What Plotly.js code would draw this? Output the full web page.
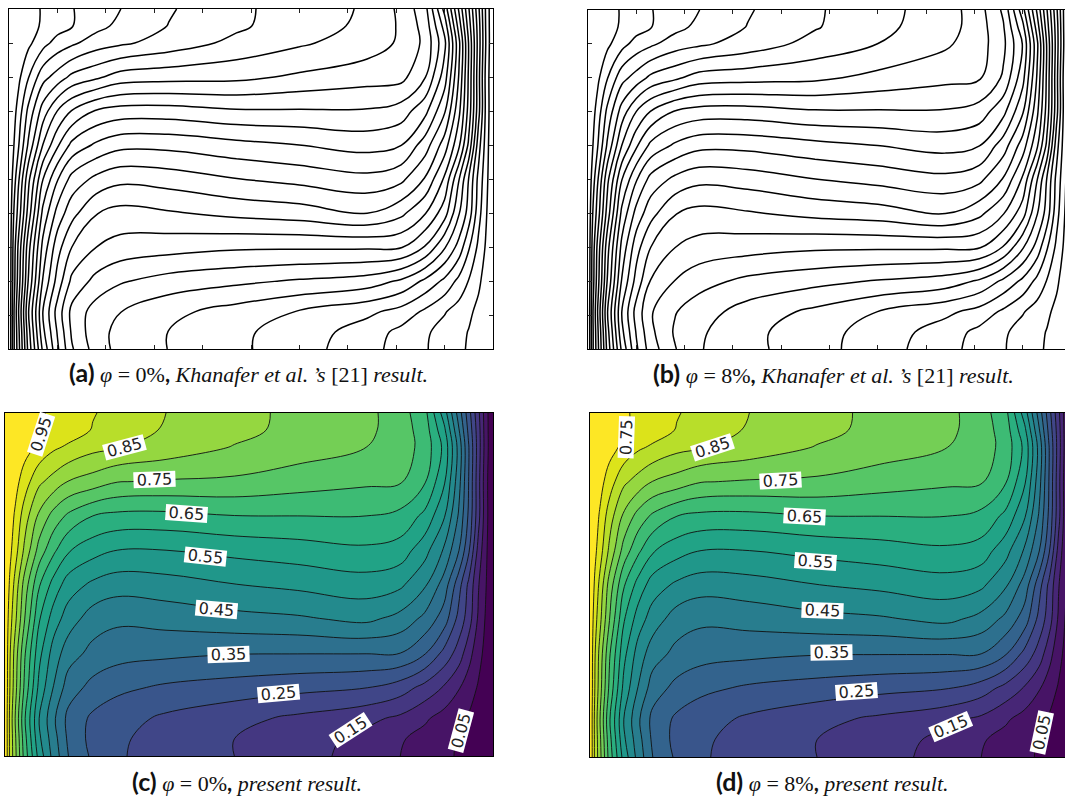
<!DOCTYPE html>
<html><head><meta charset="utf-8">
<script src="https://cdn.plot.ly/plotly-3.0.1.min.js"></script>
<style>html,body{margin:0;padding:0;background:#fff;overflow:hidden;width:1065px;height:796px}</style>
</head><body><div id="chart"></div>
<script>
const xGrid=[0,.01,.02,.04,.07,.1,.13,.18,.23,.33,.47,.6,.74,.81,.86,.9,.93,.95,.97,.985,1];
const yGrid=[0,.05,.11,.2,.3,.4,.5,.6,.7,.8,.9,.95,1];
const zField=[
[1,.89,.82,.68,.53,.43,.35,.29,.255,.23,.20,.17,.13,.10,.08,.06,.045,.035,.025,.012,0],
[1,.89,.815,.67,.51,.42,.34,.283,.258,.23,.20,.175,.135,.105,.083,.062,.047,.037,.027,.014,0],
[1,.888,.806,.657,.50,.408,.335,.29,.27,.241,.215,.19,.163,.14,.108,.08,.06,.045,.03,.016,0],
[1,.90,.825,.69,.535,.447,.375,.334,.312,.292,.278,.265,.252,.225,.184,.145,.104,.075,.045,.025,0],
[1,.905,.835,.708,.565,.477,.423,.385,.37,.362,.353,.352,.352,.35,.305,.235,.177,.12,.068,.035,0],
[1,.922,.867,.753,.605,.525,.475,.425,.41,.419,.434,.443,.462,.433,.387,.325,.233,.176,.092,.045,0],
[1,.942,.888,.78,.655,.58,.525,.49,.472,.479,.499,.512,.527,.51,.458,.378,.27,.19,.104,.054,0],
[1,.9625,.925,.84,.73,.66,.605,.57,.55,.55,.565,.577,.591,.578,.519,.443,.352,.26,.133,.062,0],
[1,.975,.945,.875,.79,.73,.69,.65,.637,.636,.649,.65,.65,.636,.588,.505,.393,.292,.168,.07,0],
[1,.99,.97,.925,.86,.83,.798,.777,.752,.745,.741,.724,.709,.705,.655,.557,.418,.30,.168,.068,0],
[1,.998,.99,.97,.937,.908,.892,.865,.853,.83,.797,.775,.75,.725,.683,.587,.431,.304,.175,.077,0],
[1,1,.995,.98,.955,.94,.925,.897,.875,.845,.815,.785,.762,.725,.677,.562,.404,.288,.172,.075,0],
[1,1,.998,.98,.957,.94,.925,.903,.885,.85,.817,.787,.765,.722,.667,.525,.377,.272,.162,.073,0]
];
const zFieldB=[
[1,.89,.82,.68,.53,.43,.365,.31,.272,.242,.207,.172,.13,.10,.08,.06,.045,.035,.025,.012,0],
[1,.89,.815,.67,.51,.42,.355,.303,.275,.242,.207,.177,.135,.105,.083,.062,.047,.037,.027,.014,0],
[1,.888,.806,.657,.50,.408,.35,.31,.287,.253,.222,.192,.163,.14,.108,.08,.06,.045,.03,.016,0],
[1,.90,.825,.69,.535,.447,.382,.345,.322,.298,.281,.266,.252,.225,.184,.145,.104,.075,.045,.025,0],
[1,.905,.835,.708,.565,.477,.423,.385,.37,.362,.353,.352,.352,.35,.305,.235,.177,.12,.068,.035,0],
[1,.922,.867,.753,.605,.525,.475,.425,.41,.419,.434,.443,.462,.433,.387,.325,.233,.176,.092,.045,0],
[1,.942,.888,.78,.655,.58,.525,.49,.472,.479,.499,.512,.527,.51,.458,.378,.27,.19,.104,.054,0],
[1,.9625,.925,.84,.73,.66,.605,.57,.55,.55,.565,.577,.591,.578,.519,.443,.352,.26,.133,.062,0],
[1,.975,.945,.875,.79,.73,.69,.65,.637,.636,.649,.65,.65,.636,.588,.505,.393,.292,.168,.07,0],
[1,.99,.97,.925,.86,.83,.798,.777,.752,.745,.739,.72,.703,.697,.648,.552,.418,.30,.168,.068,0],
[1,.998,.99,.97,.937,.908,.892,.865,.853,.83,.794,.769,.737,.71,.663,.575,.431,.304,.175,.077,0],
[1,1,.995,.98,.955,.94,.925,.897,.875,.845,.811,.779,.749,.71,.657,.55,.404,.288,.172,.075,0],
[1,1,.998,.98,.957,.94,.925,.903,.885,.85,.813,.781,.752,.707,.647,.515,.377,.272,.162,.073,0]
];
const labelsC=[["0.95",.074,.937,-72],["0.85",.244,.899,-15],["0.75",.307,.805,-2],["0.65",.371,.706,4],["0.55",.41,.583,6],["0.45",.434,.428,5],["0.35",.457,.297,-2],["0.25",.56,.183,-5],["0.15",.707,.075,-33],["0.05",.934,.075,-75]];
const labelsD=[["0.75",.075,.929,-88],["0.85",.253,.90,-18],["0.75",.395,.804,-3],["0.65",.445,.699,3],["0.55",.466,.569,4],["0.45",.482,.427,2],["0.35",.499,.305,-1],["0.25",.551,.189,-4],["0.15",.747,.09,-23],["0.05",.936,.07,-78]];
const W=1075,H=796;
const frames=[[9,493,9,349],[588,1071,10,349],[5,493,413,756],[590,1073,413,757]];
const fields=[zField,zFieldB,zField,zField];
const captions=[
 [248,372,"(a)","0%","<i>Khanafer et al.\u2009’s</i> [21] <i>result.</i>"],
 [833,373,"(b)","8%","<i>Khanafer et al.\u2009’s</i> [21] <i>result.</i>"],
 [247,781,"(c)","0%","<i>present result.</i>"],
 [832,781,"(d)","8%","<i>present result.</i>"]];
const traces=[],layout={width:W,height:H,margin:{l:0,r:0,t:0,b:0},paper_bgcolor:"#fff",plot_bgcolor:"#fff",showlegend:false,annotations:[]};
frames.forEach((f,i)=>{
  const s=i?String(i+1):"";
  const lined=i<2;
  traces.push({type:"contour",x:xGrid,y:yGrid,z:fields[i],xaxis:"x"+s,yaxis:"y"+s,showscale:false,hoverinfo:"skip",
    zmin:0,zmax:1,colorscale:lined?[[0,"#000"],[1,"#000"]]:"Viridis",autocontour:false,
    contours:lined?{start:1/26,end:25.5/26,size:1/26,coloring:"lines"}:{start:.05,end:.96,size:.05,coloring:"fill"},
    line:lined?{color:"#000",width:1.5,smoothing:1.1}:{color:"#111",width:.9,smoothing:1.1}});
  const ax={range:[0,1],showgrid:false,zeroline:false,showticklabels:false,showline:true,linecolor:"#000",linewidth:1.2,mirror:lined?"ticks":true,
    ticks:lined?"inside":"",ticklen:4,tickcolor:"#222",tickwidth:1,dtick:.1,tick0:0};
  layout["xaxis"+s]=Object.assign({},ax,{domain:[f[0]/W,f[1]/W],anchor:"y"+s});
  layout["yaxis"+s]=Object.assign({},ax,{domain:[1-f[3]/H,1-f[2]/H],anchor:"x"+s});
});
[[labelsC,"3"],[labelsD,"4"]].forEach(([ls,s])=>ls.forEach(l=>layout.annotations.push({text:l[0],x:l[1],y:l[2],xref:"x"+s,yref:"y"+s,textangle:l[3],showarrow:false,
  bgcolor:"#fff",borderpad:0,width:41,height:15,font:{family:"DejaVu Sans",size:16,color:"#222"}})));
captions.forEach(c=>layout.annotations.push({xref:"paper",yref:"paper",x:c[0]/W,y:1-c[1]/H,showarrow:false,xanchor:"center",yanchor:"middle",
  font:{family:"Liberation Serif",size:22,color:"#111"},
  text:'<span style="font-family:Lato;font-size:25px;font-weight:bold">'+c[2]+'</span> <i>φ</i>\u00a0=\u00a0'+c[3]+'<span style="font-family:Lato;font-weight:bold">,</span> '+c[4]}));
Plotly.newPlot("chart",traces,layout,{staticPlot:true,displayModeBar:false});
</script></body></html>
